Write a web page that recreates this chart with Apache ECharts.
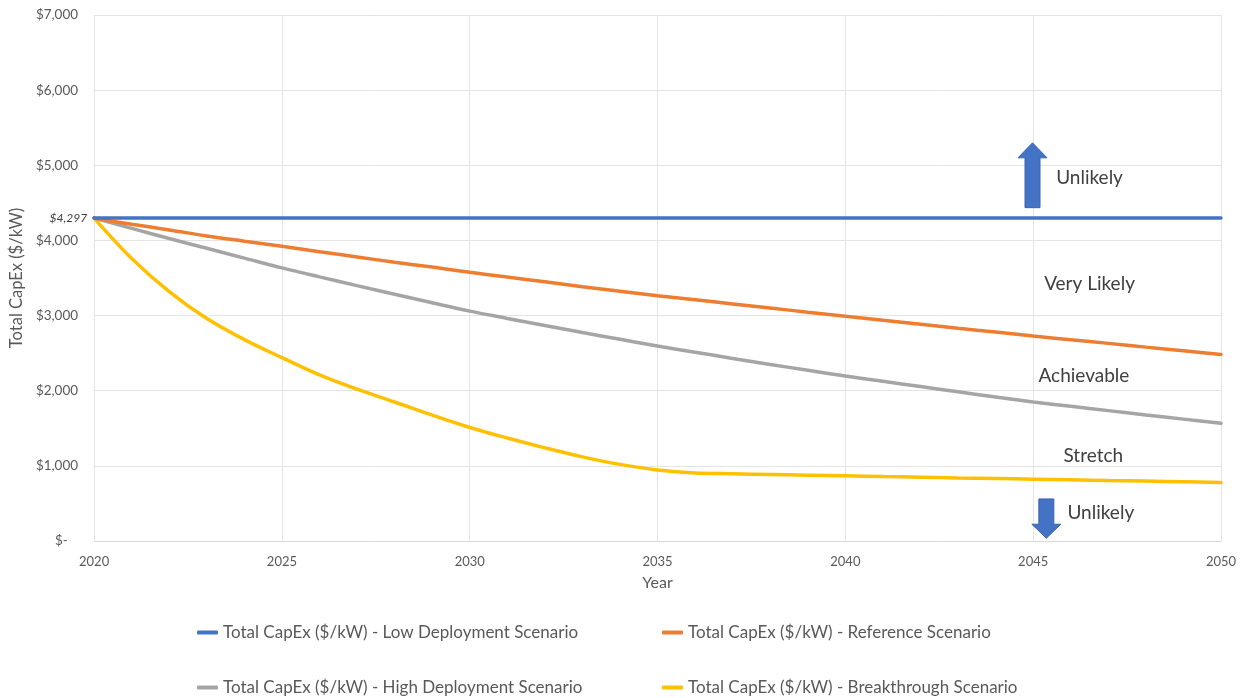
<!DOCTYPE html>
<html><head><meta charset="utf-8">
<script src="https://cdn.jsdelivr.net/npm/echarts@6/dist/echarts.min.js"></script>
<style>html,body{margin:0;padding:0;background:#fff}#c{width:1247px;height:698px}</style>
</head><body><div id="c"></div>
<script>
const years = [2020,2021,2022,2023,2024,2025,2026,2027,2028,2029,2030,2031,2032,2033,2034,2035,2036,2037,2038,2039,2040,2041,2042,2043,2044,2045,2046,2047,2048,2049,2050];
const lowDeployment = [4297,4297,4297,4297,4297,4297,4297,4297,4297,4297,4297,4297,4297,4297,4297,4297,4297,4297,4297,4297,4297,4297,4297,4297,4297,4297,4297,4297,4297,4297,4297];
const reference = [4297,4215,4140,4060,3990,3922,3850,3780,3710,3645,3577,3512,3450,3385,3325,3265,3210,3155,3100,3045,2992,2938,2885,2832,2780,2727,2678,2630,2580,2532,2483];
const highDeployment = [4297,4160,4025,3895,3765,3635,3515,3398,3283,3170,3059,2962,2868,2775,2684,2595,2512,2430,2350,2272,2195,2125,2055,1985,1917,1850,1792,1735,1678,1622,1567];
const breakthrough = [4297,3760,3320,2960,2680,2440,2210,2020,1850,1675,1510,1370,1240,1120,1020,945,905,895,885,876,867,858,850,840,832,823,814,805,797,788,780];
const seriesNames = ['Total CapEx ($/kW) - Low Deployment Scenario','Total CapEx ($/kW) - Reference Scenario','Total CapEx ($/kW) - High Deployment Scenario','Total CapEx ($/kW) - Breakthrough Scenario'];
const yTicks = [0,1000,2000,3000,4000,5000,6000,7000];
const annoTexts = ['Unlikely','Very Likely','Achievable','Stretch','Unlikely'];
const annoAt = [[2046.5,4834],[2046.5,3426],[2046.35,2191],[2046.6,1129],[2046.8,372]];

const FONT = 'Lato, "Noto Sans", sans-serif';
const colors = ['#4472C4','#ED7D31','#A5A5A5','#FFC000'];
const allSeries = [lowDeployment, reference, highDeployment, breakthrough];
const chart = echarts.init(document.getElementById('c'));
function fmtY(v){ return v === 0 ? '$-   ' : '$' + v.toLocaleString('en-US'); }
const series = allSeries.map((arr,i)=>{
  const s = {
    name: seriesNames[i], type:'line', smooth: i===0?false:0.35, showSymbol:false, symbol:'none',
    z: 10 - i,
    lineStyle:{color:colors[i], width:3.5, cap:'round'}, itemStyle:{color:colors[i]},
    data: years.map((y,k)=>[y,arr[k]])
  };
  if(i===0){
    s.markPoint = {symbol:'circle', symbolSize:0, silent:true,
      data:[{coord:[years[0],arr[0]], value:arr[0]}],
      label:{show:true,position:'left',distance:7,fontStyle:'italic',fontSize:12,color:'#404040',fontFamily:FONT,
        formatter:p=>'$'+Number(p.value).toLocaleString('en-US')}};
  }
  return s;
});
const legendPos = [[197,624],[662,624],[197,679],[662,679]];
const legends = seriesNames.map((n,i)=>({left:legendPos[i][0], top:legendPos[i][1], padding:0, data:[n], icon:'roundRect', itemWidth:21, itemHeight:4,
  textStyle:{color:'#595959', fontSize:17, fontFamily:FONT}, selectedMode:false}));
chart.setOption({
  animation:false,
  grid:{left:93,right:26,top:15,bottom:157},
  xAxis:{type:'value',min:2020,max:2050,interval:5,name:'Year',nameLocation:'middle',nameGap:34,
    nameTextStyle:{color:'#595959',fontSize:16,fontFamily:FONT},
    axisLine:{show:true,lineStyle:{color:'#D9D9D9'}},axisTick:{show:false},
    axisLabel:{color:'#595959',fontSize:13,fontFamily:FONT,margin:14,formatter:v=>String(v)},
    splitLine:{show:true,lineStyle:{color:'#E4E4E4'}}},
  yAxis:{type:'value',min:yTicks[0],max:yTicks[yTicks.length-1],interval:1000,name:'Total CapEx ($/kW)',nameLocation:'middle',nameGap:66,
    nameTextStyle:{color:'#595959',fontSize:16.5,fontFamily:FONT},
    axisLine:{show:false},axisTick:{show:false},
    axisLabel:{color:'#595959',fontSize:13.5,fontFamily:FONT,margin:16,formatter:fmtY},
    splitLine:{show:true,lineStyle:{color:'#E4E4E4'}}},
  legend: legends,
  series: series
});
const g = [];
annoTexts.forEach((t,i)=>{
  const p = chart.convertToPixel({gridIndex:0}, annoAt[i]);
  g.push({type:'text',x:p[0],y:p[1],style:{text:t,fill:'#404040',font:'19px '+FONT,textAlign:'center',textVerticalAlign:'middle'}});
});
const up = chart.convertToPixel({gridIndex:0},[2045,5299]);
const upB = chart.convertToPixel({gridIndex:0},[2045,4436]);
const dn = chart.convertToPixel({gridIndex:0},[2045.35,560]);
const dnT = chart.convertToPixel({gridIndex:0},[2045.35,37]);
const cx = Math.round(up[0])-0.5;
g.push({type:'polygon',shape:{points:[[cx,up[1]],[cx+14.5,up[1]+15],[cx+7.5,up[1]+15],[cx+7.5,upB[1]],[cx-7.5,upB[1]],[cx-7.5,up[1]+15],[cx-14.5,up[1]+15]]},style:{fill:'#4472C4',stroke:'#3A64B0',lineWidth:1}});
const dx = dn[0];
g.push({type:'polygon',shape:{points:[[dx-7.5,dn[1]],[dx+7.5,dn[1]],[dx+7.5,dnT[1]-14],[dx+14.5,dnT[1]-14],[dx,dnT[1]],[dx-14.5,dnT[1]-14],[dx-7.5,dnT[1]-14]]},style:{fill:'#4472C4',stroke:'#3A64B0',lineWidth:1}});
chart.setOption({graphic:g});
</script></body></html>
